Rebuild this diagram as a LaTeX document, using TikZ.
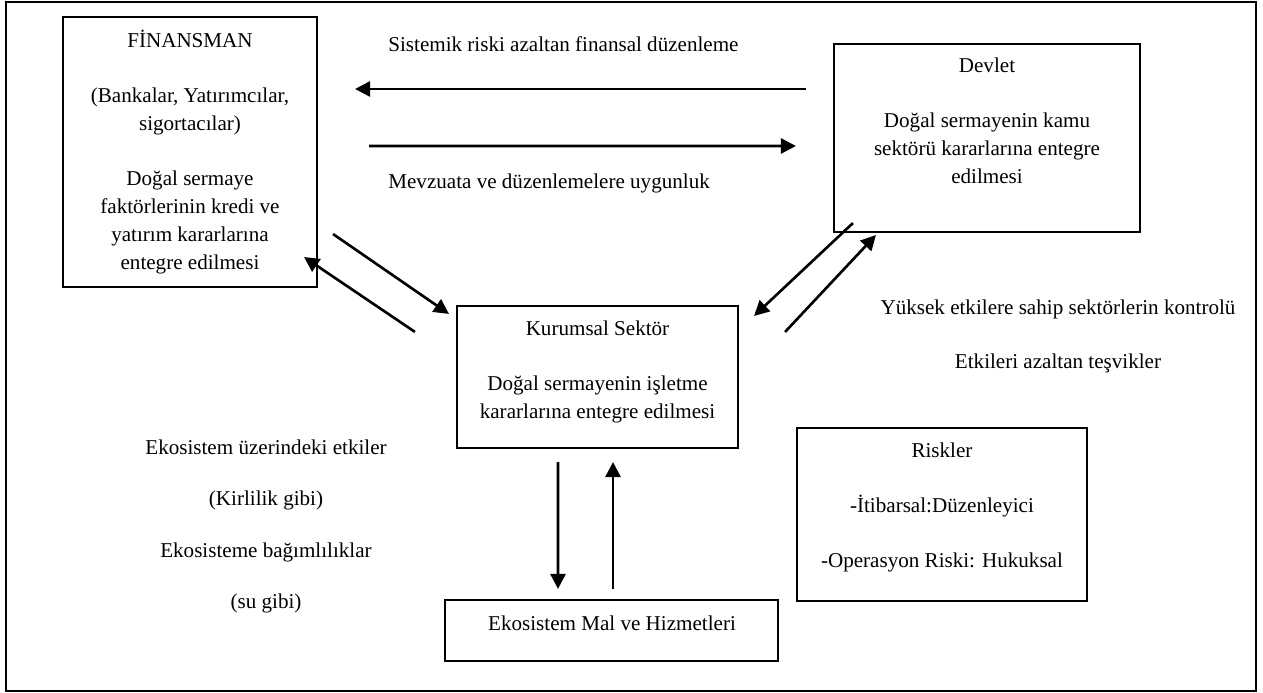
\documentclass[tikz,border=0pt]{standalone}
\usepackage{fontspec}
\setmainfont{Liberation Serif}
\usetikzlibrary{arrows.meta}

\begin{document}
\begin{tikzpicture}[
		kutu/.style={draw, line width=1.2pt, inner sep=0pt},
		yazi/.style={align=center, anchor=base, inner sep=0pt, font=\fontsize{12}{16}\selectfont},
		ok/.style={line width=1.5pt, -{Triangle[length=3mm,width=3mm]}}]
			\useasboundingbox (0,0) rectangle (25.26,13.86);
			\draw [line width=1.4pt] (0.12,0.04) rectangle (25.12,13.82);
			% kutular
			\node [kutu, minimum width=5.08cm, minimum height=5.40cm] (fin) at (3.80,10.82) {};
			\node [kutu, minimum width=6.12cm, minimum height=3.76cm] (devlet) at (19.74,11.10) {};
			\node [kutu, minimum width=5.62cm, minimum height=2.84cm] (kurumsal) at (11.95,6.32) {};
			\node [kutu, minimum width=5.80cm, minimum height=3.46cm] (riskler) at (18.84,3.57) {};
			\node [kutu, minimum width=6.66cm, minimum height=1.22cm] (ekosistem) at (12.23,1.25) {};
			% kutu yazilari (base = son satir)
			\node [yazi] (finyazi) at (3.80,8.46) {F\.{I}NANSMAN\\[0.54cm](Bankalar, Yatırımcılar,\\sigortacılar)\\[0.54cm]Doğal sermaye\\faktörlerinin kredi ve\\yatırım kararlarına\\entegre edilmesi};
			\node [yazi] (devletyazi) at (19.74,10.18) {Devlet\\[0.54cm]Doğal sermayenin kamu\\sektörü kararlarına entegre\\edilmesi};
			\node [yazi] (kurumsalyazi) at (11.95,5.48) {Kurumsal Sektör\\[0.54cm]Doğal sermayenin işletme\\kararlarına entegre edilmesi};
			\node [yazi] (risklerYazi) at (18.84,2.50) {Riskler\\[0.54cm]-\.{I}tibarsal:Düzenleyici\\[0.54cm]-Operasyon Riski: Hukuksal};
			\node [yazi] (ekosistemyazi) at (12.24,1.24) {Ekosistem Mal ve Hizmetleri};
			% oklar
			\draw [ok] ([xshift=-0.54cm,yshift=0.98cm]devlet.west) -- ([xshift=0.74cm,yshift=1.26cm]fin.east);
			\draw [ok] ([xshift=1.02cm,yshift=0.12cm]fin.east) -- ([xshift=-0.74cm,yshift=-0.16cm]devlet.west);
			\draw [ok] ([xshift=0.30cm,yshift=1.08cm]fin.south east) -- ([xshift=-0.14cm,yshift=-0.18cm]kurumsal.north west);
			\draw [ok] ([xshift=-0.82cm,yshift=-0.54cm]kurumsal.north west) -- ([xshift=-0.28cm,yshift=0.62cm]fin.south east);
			\draw [ok] ([xshift=0.40cm,yshift=0.20cm]devlet.south west) -- ([xshift=0.30cm,yshift=-0.22cm]kurumsal.north east);
			\draw [ok] ([xshift=0.92cm,yshift=-0.54cm]kurumsal.north east) -- ([xshift=0.86cm,yshift=-0.04cm]devlet.south west);
			\draw [ok] ([xshift=-0.79cm,yshift=-0.26cm]kurumsal.south) -- ([xshift=-1.07cm,yshift=0.20cm]ekosistem.north);
			\draw [ok] ([xshift=0.03cm,yshift=0.20cm]ekosistem.north) -- ([xshift=0.31cm,yshift=-0.26cm]kurumsal.south);
			% ok yazilari
			\node [yazi, anchor=base west] (sistemik) at (7.76,12.82) {Sistemik riski azaltan finansal düzenleme};
			\node [yazi, anchor=base west] (mevzuat) at (7.76,10.08) {Mevzuata ve düzenlemelere uygunluk};
			\node [yazi] (kontrol) at (21.16,6.48) {Yüksek etkilere sahip sektörlerin kontrolü\\[0.52cm]Etkileri azaltan teşvikler};
			\node [yazi] (etkiler) at (5.32,1.68) {Ekosistem üzerindeki etkiler\\[0.47cm](Kirlilik gibi)\\[0.47cm]Ekosisteme bağımlılıklar\\[0.47cm](su gibi)};
		\end{tikzpicture}
\end{document}
